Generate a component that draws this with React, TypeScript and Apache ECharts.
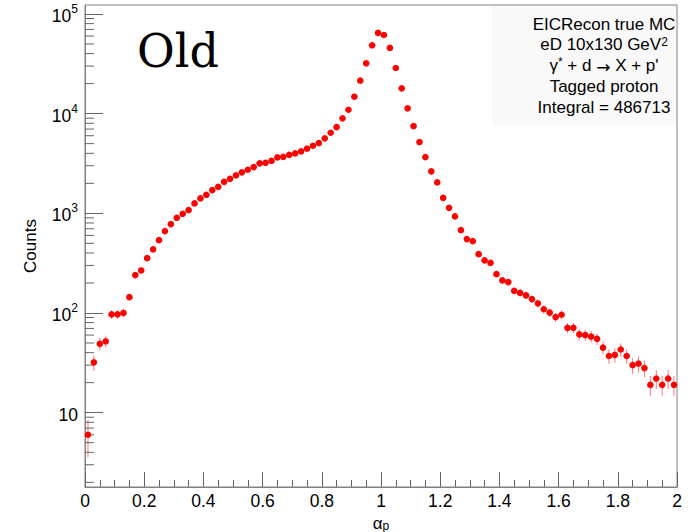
import React, { useEffect, useRef } from "react";
import * as echarts from "echarts";

// Histogram binning (alpha_p from 0 to 2 in 100 bins)
const xMin = 0;
const xMax = 2;
const binWidth = 0.02;

// Bin contents (Counts per bin)
const counts = [
  6, 32, 49, 52, 97, 97, 100, 144, 240, 267,
  355, 434, 538, 663, 779, 902, 989, 1077, 1257, 1410,
  1534, 1710, 1845, 2070, 2220, 2400, 2575, 2735, 2910, 3170,
  3210, 3365, 3640, 3690, 3865, 3990, 4180, 4445, 4760, 5070,
  5650, 6430, 7330, 8970, 10940, 14780, 21400, 32000, 48500, 64500,
  61500, 45600, 28700, 17950, 11300, 7510, 5190, 3665, 2635, 2043,
  1431, 1135, 931, 678, 551, 526, 389, 337, 318, 245,
  212, 204, 167, 159, 150, 138, 125, 109, 101, 91,
  96, 71, 71, 61, 60, 58, 55, 45, 37, 38,
  43, 37, 30, 31, 28, 19, 22, 19, 22, 19,
];

const yMin = 1.795;
const yMax = 123000;
const xTickInterval = 0.2;
const yMinorTickMantissas = [2, 3, 4, 5, 6, 7, 8, 9];
const yDecades = [1, 10, 100, 1000, 10000];

const infoLines = [
  "EICRecon true MC",
  "eD 10x130 GeV{s|2}",
  "\u03B3{s|*} + d {a|\u2192} X + p'",
  "Tagged proton",
  "Integral = 486713",
];

const FONT = "Liberation Sans, Arial, Helvetica, sans-serif";

export default function App() {
  const ref = useRef<HTMLDivElement>(null);

  useEffect(() => {
    if (!ref.current) return;
    const chart = echarts.init(ref.current, null, { renderer: "svg" });

    const points = counts.map((c, i) => [xMin + binWidth * (i + 0.5), c, Math.sqrt(c)]);
    const minorTicks: number[][] = [];
    yDecades.forEach((d) =>
      yMinorTickMantissas.forEach((m) => {
        const v = m * d;
        if (v > yMin && v < yMax) minorTicks.push([xMin, v]);
      })
    );

    const axisColor = "#808080";
    const tickColor = "#666";
    const errColor = "rgba(255,0,0,0.55)";

    chart.setOption({
      animation: false,
      backgroundColor: "#fff",
      grid: {
        left: 85,
        right: 13,
        top: 5,
        bottom: 45,
        containLabel: false,
        outerBoundsMode: "none",
        show: true,
        borderColor: axisColor,
        borderWidth: 1,
        backgroundColor: "transparent",
      },
      xAxis: {
        type: "value",
        min: xMin,
        max: xMax,
        interval: xTickInterval,
        axisLine: { show: true, lineStyle: { color: axisColor } },
        axisTick: { show: true, inside: true, length: 15, lineStyle: { color: tickColor } },
        minorTick: { show: true, splitNumber: 4, length: 7, lineStyle: { color: tickColor } },
        splitLine: { show: false },
        axisLabel: {
          show: true,
          margin: 5,
          showMinLabel: true,
          showMaxLabel: true,
          color: "#000",
          fontSize: 17.5,
          fontFamily: FONT,
        },
        name: "{a|\u03B1}{p|p}",
        nameLocation: "middle",
        nameGap: 15,
        nameTextStyle: {
          color: "#000",
          fontSize: 17,
          fontFamily: FONT,
          rich: {
            a: { fontSize: 17, fontFamily: FONT, color: "#000", verticalAlign: "top", lineHeight: 17 },
            p: { fontSize: 12, fontFamily: FONT, color: "#000", verticalAlign: "bottom", lineHeight: 12, padding: [4, 0, 0, 0] },
          },
        },
      },
      yAxis: {
        type: "log",
        logBase: 10,
        min: yMin,
        max: yMax,
        axisLine: { show: true, lineStyle: { color: axisColor } },
        axisTick: { show: true, inside: true, length: 18, lineStyle: { color: tickColor } },
        splitLine: { show: false },
        axisLabel: {
          show: true,
          margin: 7,
          showMinLabel: false,
          showMaxLabel: false,
          color: "#000",
          fontFamily: FONT,
          fontSize: 17.5,
          formatter: (v: number) => {
            const lg = Math.log10(v);
            const e = Math.round(lg);
            if (Math.abs(lg - e) > 0.01) return "";
            if (e === 1) return "{b|10}";
            return `{b|10}{s|${e}}`;
          },
          rich: {
            b: { fontSize: 17.5, fontFamily: FONT, color: "#000", verticalAlign: "bottom", padding: [4, 0, 0, 0] },
            s: { fontSize: 12, fontFamily: FONT, color: "#000", verticalAlign: "top", lineHeight: 12 },
          },
        },
        name: "Counts",
        nameLocation: "middle",
        nameGap: 46,
        nameTextStyle: { color: "#000", fontSize: 17, fontFamily: FONT },
      },
      graphic: [
        {
          type: "rect",
          shape: { x: 492, y: 6, width: 184, height: 119 },
          style: { fill: "#f9f9f9" },
          z: 0,
          silent: true,
        },
        ...infoLines.map((t, i) => ({
          type: "text",
          x: 604,
          y: 24 + i * 20.8,
          z: 1,
          style: {
            text: t,
            fill: "#000",
            fontSize: 17,
            fontFamily: FONT,
            align: "center",
            verticalAlign: "middle",
            rich: {
              s: { fontSize: 12, fontFamily: FONT, fill: "#000", verticalAlign: "top", lineHeight: 12 },
              a: { fontSize: 17, fontFamily: "DejaVu Sans", fill: "#000", verticalAlign: "bottom", lineHeight: 20 },
            },
          },
        })),
        {
          type: "text",
          x: 137,
          y: 51,
          style: {
            text: "Old",
            fill: "#000",
            fontSize: 46,
            fontFamily: "DejaVu Serif",
            align: "left",
            verticalAlign: "middle",
          },
        },
      ],
      series: [
        {
          type: "custom",
          silent: true,
          data: minorTicks,
          renderItem: (params: any, api: any) => {
            const c = api.coord([api.value(0), api.value(1)]);
            return {
              type: "line",
              shape: { x1: c[0], y1: c[1], x2: c[0] + 9, y2: c[1] },
              style: { stroke: tickColor, lineWidth: 1 },
            };
          },
        },
        {
          type: "custom",
          silent: true,
          data: points,
          renderItem: (params: any, api: any) => {
            const x = api.value(0);
            const y = api.value(1);
            const e = api.value(2);
            const c = api.coord([x, y]);
            const lo = api.coord([x, Math.max(y - e, 1e-6)]);
            const hi = api.coord([x, y + e]);
            const l = api.coord([x - binWidth / 2, y]);
            const r = api.coord([x + binWidth / 2, y]);
            return {
              type: "group",
              children: [
                {
                  type: "line",
                  shape: { x1: c[0], y1: lo[1], x2: c[0], y2: hi[1] },
                  style: { stroke: errColor, lineWidth: 1 },
                },
                {
                  type: "line",
                  shape: { x1: l[0], y1: c[1], x2: r[0], y2: c[1] },
                  style: { stroke: errColor, lineWidth: 1 },
                },
                {
                  type: "circle",
                  shape: { cx: c[0], cy: c[1], r: 3.3 },
                  style: { fill: "#ff0000" },
                },
              ],
            };
          },
        },
      ],
    });

    return () => chart.dispose();
  }, []);

  return (
    <div
      ref={ref}
      style={{ position: "fixed", left: 0, top: 0, width: 690, height: 532, background: "#fff" }}
    />
  );
}
